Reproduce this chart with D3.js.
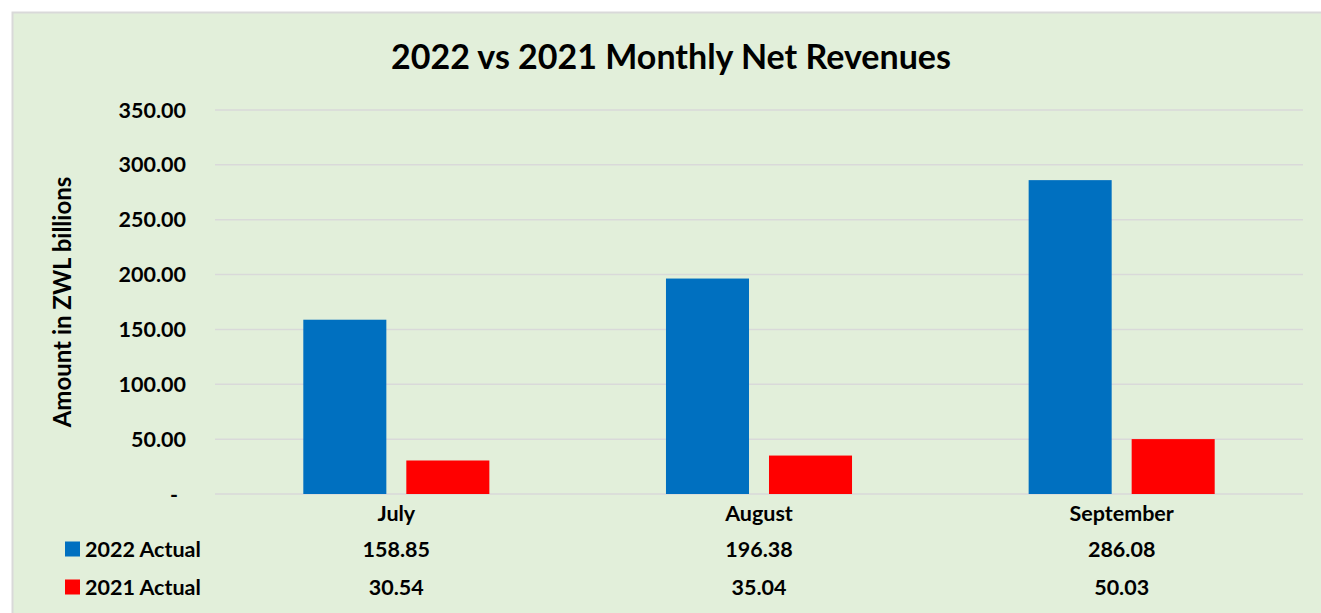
<!DOCTYPE html>
<html>
<head>
<meta charset="utf-8">
<script src="https://cdn.jsdelivr.net/npm/d3@7"></script>
<style>
  html, body { margin: 0; padding: 0; background: #fff; }
  text { font-family: Lato, "Open Sans", sans-serif; font-weight: bold; fill: #000; }
</style>
</head>
<body>
<div id="chart"></div>
<script>
var width = 1321, height = 613;

var months = ["July", "August", "September"];
var seriesNames = ["2022 Actual", "2021 Actual"];
var actual2022 = [158.85, 196.38, 286.08];
var actual2021 = [30.54, 35.04, 50.03];
var seriesColors = ["#0070c0", "#ff0000"];
var yTicks = [0, 50, 100, 150, 200, 250, 300, 350];

var seriesValues = [actual2022, actual2021];

var svg = d3.select("#chart").append("svg")
    .attr("width", width)
    .attr("height", height);

// chart area background
svg.append("rect")
    .attr("x", 12.5)
    .attr("y", 12.5)
    .attr("width", width + 20)
    .attr("height", height + 20)
    .attr("fill", "#e2efda")
    .attr("stroke", "#d9d9d9")
    .attr("stroke-width", 2);

var plot = { left: 215, right: 1303, top: 110, bottom: 494 };

var y = d3.scaleLinear()
    .domain([0, 350])
    .range([plot.bottom, plot.top]);

var x0 = d3.scaleBand()
    .domain(months)
    .range([plot.left, plot.right])
    .paddingInner(0.487)
    .paddingOuter(0.2435);

var x1 = d3.scaleBand()
    .domain(seriesNames)
    .range([0, x0.bandwidth()])
    .paddingInner(0.194);

var fmt = d3.format(".2f");

// gridlines
svg.append("g")
    .selectAll("line")
    .data(yTicks)
  .enter().append("line")
    .attr("x1", plot.left)
    .attr("x2", plot.right)
    .attr("y1", function(d) { return y(d); })
    .attr("y2", function(d) { return y(d); })
    .attr("stroke", "#d9d9d9")
    .attr("stroke-width", 1.5);

// y tick labels
svg.append("g")
    .selectAll("text")
    .data(yTicks)
  .enter().append("text")
    .attr("x", function(d) { return d === 0 ? 178 : 186; })
    .attr("y", function(d) { return y(d); })
    .attr("dy", ".35em")
    .attr("text-anchor", "end")
    .style("font-size", "21.5px")
    .text(function(d) { return d === 0 ? "-" : fmt(d); });

// bars
var groups = svg.append("g")
    .selectAll("g")
    .data(months)
  .enter().append("g")
    .attr("transform", function(d) { return "translate(" + x0(d) + ",0)"; });

groups.selectAll("rect")
    .data(function(d, i) {
      return seriesNames.map(function(s, j) {
        return { series: s, value: seriesValues[j][i], color: seriesColors[j] };
      });
    })
  .enter().append("rect")
    .attr("x", function(d) { return x1(d.series); })
    .attr("y", function(d) { return y(d.value); })
    .attr("width", x1.bandwidth())
    .attr("height", function(d) { return y(0) - y(d.value); })
    .attr("fill", function(d) { return d.color; });

// category labels
svg.append("g")
    .selectAll("text")
    .data(months)
  .enter().append("text")
    .attr("x", function(d) { return x0(d) + x0.bandwidth() / 2; })
    .attr("y", 513)
    .attr("dy", ".35em")
    .attr("text-anchor", "middle")
    .style("font-size", "21.5px")
    .text(function(d) { return d; });

// data table rows
var rowY = [549, 587];
seriesNames.forEach(function(name, j) {
  var row = svg.append("g");
  row.append("rect")
    .attr("x", 65)
    .attr("y", rowY[j] - 7.5)
    .attr("width", 15)
    .attr("height", 15)
    .attr("fill", seriesColors[j]);
  row.append("text")
    .attr("x", 85)
    .attr("y", rowY[j])
    .attr("dy", ".35em")
    .style("font-size", "21.5px")
    .text(name);
  row.selectAll(".val")
    .data(seriesValues[j])
  .enter().append("text")
    .attr("class", "val")
    .attr("x", function(d, i) { return x0(months[i]) + x0.bandwidth() / 2; })
    .attr("y", rowY[j])
    .attr("dy", ".35em")
    .attr("text-anchor", "middle")
    .style("font-size", "21.5px")
    .text(function(d) { return fmt(d); });
});

// y axis title
svg.append("text")
    .attr("transform", "translate(63,302) rotate(-90)")
    .attr("dy", ".35em")
    .attr("text-anchor", "middle")
    .style("font-size", "24px")
    .text("Amount in ZWL billions");

// title
svg.append("text")
    .attr("x", 671)
    .attr("y", 57)
    .attr("dy", ".35em")
    .attr("text-anchor", "middle")
    .style("font-size", "34px")
    .text("2022 vs 2021 Monthly Net Revenues");
</script>
</body>
</html>
